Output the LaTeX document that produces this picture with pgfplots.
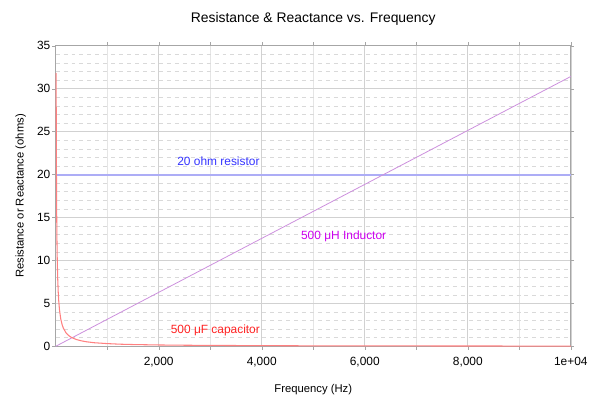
\documentclass[border=0pt]{standalone}
\usepackage{pgfplots}
\pgfplotsset{compat=1.18}
\usepackage{fontspec}
\setmainfont{Liberation Sans}
\definecolor{resline}{HTML}{ADADF6}
\definecolor{indline}{HTML}{CC8FDD}
\definecolor{capline}{HTML}{FF8080}
\definecolor{restext}{HTML}{3333FF}
\definecolor{indtext}{HTML}{CC00EE}
\definecolor{captext}{HTML}{FF2222}
\begin{document}
\begin{tikzpicture}
\path (-42pt,-39pt) rectangle (401.75pt,261.5pt);
\begin{axis}[
  scale only axis,
  width=389pt, height=227pt,
  xmin=0, xmax=10000, ymin=0, ymax=35,
  scaled x ticks=false,
  xtick={2000,4000,6000,8000,10000},
  xticklabels={{2,000},{4,000},{6,000},{8,000},{1e+04}},
  minor xtick={1000,3000,5000,7000,9000},
  ytick={0,5,...,35},
  extra y ticks={1,2,3,4,6,7,8,9,11,12,13,14,16,17,18,19,21,22,23,24,26,27,28,29,31,32,33,34},
  extra y tick labels={},
  extra y tick style={
    major tick length=0pt,
    major grid style={line width=.4pt, draw=black!15, dashed},
  },
  grid=both,
  major grid style={line width=.5pt, draw=black!18},
  minor grid style={line width=.4pt, draw=black!10},
  axis line style={draw=black!35, line width=.8pt},
  tick align=outside,
  major tick length=2.5pt,
  minor tick length=2.5pt,
  tick style={draw=black!35},
  /pgf/number format/assume math mode=true,
  ticklabel style={font=\fontsize{9}{10}\selectfont},
  yticklabel style={xshift=2pt},
  xticklabel style={yshift=-2pt},
  title={Resistance \& Reactance vs. Frequency},
  title style={font=\fontsize{10.5}{12}\selectfont, yshift=6pt},
  xlabel={Frequency (Hz)},
  ylabel={Resistance or Reactance (ohms)},
  label style={font=\fontsize{8.5}{10}\selectfont},
  xlabel style={yshift=-6.5pt},
  ylabel style={yshift=-1pt},
  clip=true,
]
% 20 ohm resistor
\addplot[color=resline, line width=1.5pt, mark=none] coordinates {
(0,20) (10000,20)
};
% 500 uH inductor
\addplot[color=indline, line width=.6pt, mark=none] coordinates {
(0,0) (10000,31.42)
};
% 500 uF capacitor
\addplot[color=capline, line width=.8pt, mark=none] coordinates {
(10,31.83) (12,26.53) (15,21.22) (20,15.92) (25,12.73) (30,10.61) (40,7.96) (50,6.37)
(60,5.31) (75,4.24) (100,3.18) (125,2.55) (150,2.12) (200,1.59) (250,1.27) (300,1.06)
(400,0.80) (500,0.64) (600,0.53) (750,0.42) (1000,0.32) (1250,0.25) (1500,0.21)
(2000,0.16) (2500,0.13) (3000,0.11) (4000,0.08) (5000,0.06) (6000,0.05) (8000,0.04) (10000,0.03)
};
\node[text=restext, font=\fontsize{9}{10}\selectfont] at (axis cs:3160,21.6) {20 ohm resistor};
\node[text=indtext, font=\fontsize{9}{10}\selectfont] at (axis cs:5590,12.8) {500 μH Inductor};
\node[text=captext, font=\fontsize{9}{10}\selectfont] at (axis cs:3100,1.85) {500 μF capacitor};
\end{axis}
\end{tikzpicture}
\end{document}
